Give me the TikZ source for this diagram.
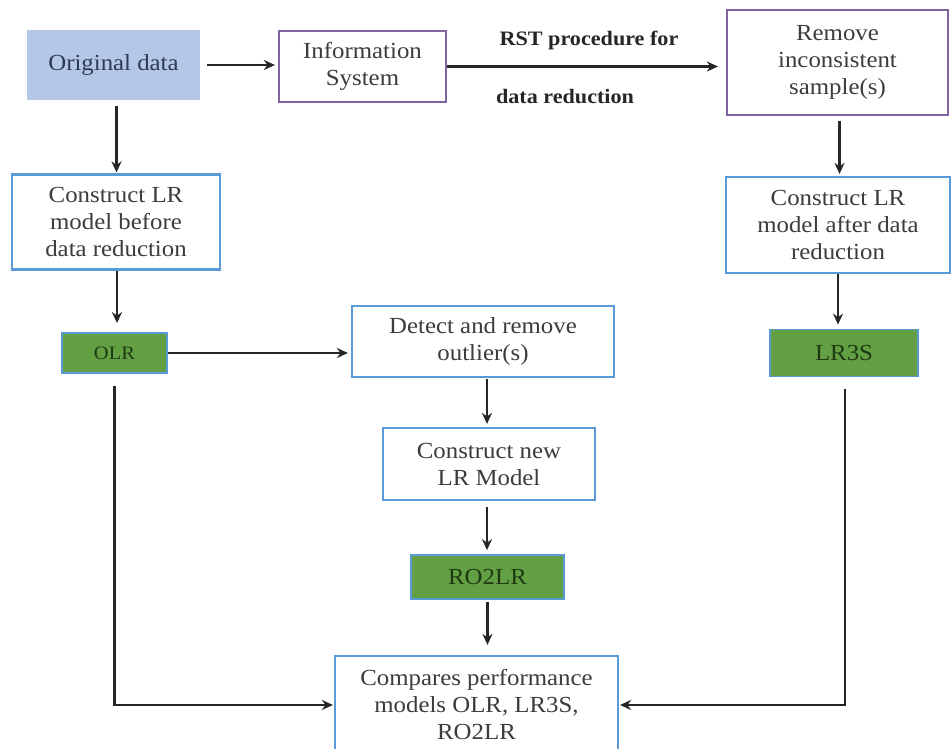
\documentclass[tikz,border=0pt]{standalone}
\usepackage{fontspec}
\setmainfont[FakeStretch=1.08]{Liberation Serif}
\usetikzlibrary{arrows.meta}
\definecolor{txt}{HTML}{3C3C3C}
\definecolor{bluebd}{HTML}{5B9BD5}
\definecolor{purbd}{HTML}{8064A2}
\definecolor{greenfill}{HTML}{62A043}
\definecolor{greentxt}{HTML}{1F3A12}
\definecolor{origfill}{HTML}{B4C7E7}
\definecolor{origtxt}{HTML}{2E3B55}
\tikzset{
  base/.style={rectangle, inner sep=0pt, align=center, text=txt,
    font=\fontsize{23}{27}\selectfont},
  bluebox/.style={base, draw=bluebd, line width=2.2pt, fill=white},
  purbox/.style={base, draw=purbd, line width=2.2pt, fill=white},
  greenbox/.style={base, draw=bluebd, line width=1.8pt, fill=greenfill, text=greentxt},
  origbox/.style={base, fill=origfill, text=origtxt},
  conn/.style={line width=2.6pt, draw=black!85, -{Stealth[length=11pt,width=10pt]}},
  lbl/.style={text=black!85, font=\fontsize{20.5}{24}\selectfont\bfseries}
}
\begin{document}
\begin{tikzpicture}[x=1pt,y=-1pt]
\clip (0,0) rectangle (951,749);
\useasboundingbox (0,0) rectangle (951,749);
\fill[white] (0,0) rectangle (951,749);

\node[origbox, minimum width=173pt, minimum height=70pt] (orig) at (113.5,65) {Original data};
\node[purbox, minimum width=167pt, minimum height=71pt] (info) at (362.5,66.5) {Information\\System};
\node[purbox, minimum width=221pt, minimum height=105pt] (remove) at (837.5,62.5) {Remove\\inconsistent\\sample(s)};
\node[bluebox, minimum width=208pt, minimum height=95pt] (c1) at (116,222) {Construct LR\\model before\\data reduction};
\node[bluebox, minimum width=224pt, minimum height=96pt] (c2) at (838,225) {Construct LR\\model after data\\reduction};
\node[greenbox, minimum width=105pt, minimum height=40pt, font=\fontsize{19}{22}\selectfont] (olr) at (114.5,353) {OLR};
\node[bluebox, minimum width=262pt, minimum height=71pt] (detect) at (483,341.5) {Detect and remove\\outlier(s)};
\node[greenbox, minimum width=148pt, minimum height=47pt] (lr3s) at (844,353) {LR3S};
\node[bluebox, minimum width=212pt, minimum height=72pt] (newlr) at (489,464) {Construct new\\LR Model};
\node[greenbox, minimum width=153pt, minimum height=44pt] (ro2lr) at (487.5,577) {RO2LR};
\node[bluebox, minimum width=283pt, minimum height=98pt] (comp) at (476.5,705) {Compares performance\\models OLR, LR3S,\\RO2LR};

\node[lbl] (rst1) at (589,40) {RST procedure for};
\node[lbl] (rst2) at (565,97) {data reduction};

\draw[conn, shorten <=7pt, shorten >=3pt] (orig.east) -- (orig.east -| info.west);
\draw[conn, shorten >=8pt] (info.east) -- (info.east -| remove.west);
\draw[conn, shorten <=6pt, shorten >=1pt] ([xshift=3pt]orig.south) -- ([xshift=3pt]orig.south |- c1.north);
\draw[conn, shorten <=5pt, shorten >=2pt] ([xshift=2pt]remove.south) -- ([xshift=2pt]remove.south |- c2.north);
\draw[conn, shorten >=9pt] ([xshift=1pt]c1.south) -- ([xshift=1pt]c1.south |- olr.north);
\draw[conn, shorten >=4pt] (c2.south) -- (c2.south |- lr3s.north);
\draw[conn, shorten >=3pt] (olr.east) -- (olr.east -| detect.west);
\draw[conn, shorten <=1pt, shorten >=3pt] ([xshift=4pt]detect.south) -- ([xshift=4pt]detect.south |- newlr.north);
\draw[conn, shorten <=6pt, shorten >=4pt] ([xshift=-2pt]newlr.south) -- ([xshift=-2pt]newlr.south |- ro2lr.north);
\draw[conn, shorten <=2pt, shorten >=10pt] (ro2lr.south) -- (ro2lr.south |- comp.north);
\draw[conn, shorten <=12pt, shorten >=1pt] (olr.south) |- (comp.west);
\draw[conn, shorten <=12pt, shorten >=1pt] ([xshift=1pt]lr3s.south) |- (comp.east);
\end{tikzpicture}
\end{document}
